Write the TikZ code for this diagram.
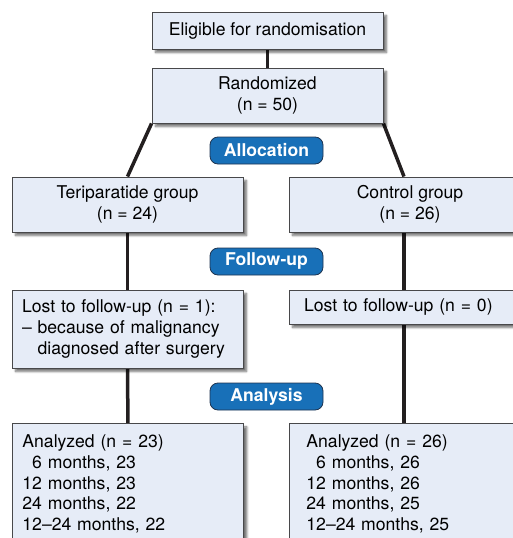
\documentclass[tikz,border=0pt]{standalone}
\usepackage{fontspec}
\setmainfont{TeX Gyre Heros}
\usetikzlibrary{positioning, calc, shadows.blur}
\definecolor{boxblue}{RGB}{230, 236, 247}
\definecolor{boxline}{RGB}{72, 72, 74}
\definecolor{pillblue}{RGB}{24, 112, 184}
\definecolor{pilledge}{RGB}{30, 52, 80}
\definecolor{linkblack}{RGB}{35, 31, 32}
\newcommand{\flowfont}{\fontsize{17.6}{20.7}\selectfont}
\pgfdeclarelayer{background}
\pgfsetlayers{background,main}

\begin{document}
\begin{tikzpicture}[x=1pt, y=-1pt,
  flowbox/.style={draw=boxline, fill=boxblue, line width=0.9pt, inner sep=0pt, font=\flowfont, align=center,
    blur shadow={shadow xshift=3.5pt, shadow yshift=-3.5pt, shadow blur steps=6, shadow opacity=55}},
  pill/.style={draw=pilledge, fill=pillblue, line width=0.8pt, rounded corners=8pt, minimum width=113pt,
    minimum height=27pt, inner sep=0pt, text=white, font=\flowfont\bfseries},
  link/.style={draw=linkblack, line width=3.5pt}]
  \useasboundingbox (0,0) rectangle (513,538);

  % enrolment
  \node[flowbox, minimum width=231pt, minimum height=37pt] (elig) at (267.5,30.5) {Eligible for randomisation};
  \node[flowbox, minimum width=231pt, minimum height=55pt] (rand) at (267.5,95.5) {Randomized\\(n = 50)};
  \node[pill] (alloc) at (266.5,150.5) {Allocation};

  % allocation
  \node[flowbox, minimum width=231pt, minimum height=55pt] (ter) at (127.5,204.5) {Teriparatide group\\(n = 24)};
  \node[flowbox, minimum width=242pt, minimum height=55pt] (ctrl) at (410,204.5) {Control group\\(n = 26)};
  \node[pill] (follow) at (266.5,261.5) {Follow-up};

  % follow-up
  \node[flowbox, align=left, text width=211pt, inner xsep=10pt, minimum height=78pt] (lostL) at (127.5,329)
    {Lost to follow-up (n = 1):\\– because of malignancy\\\phantom{– }diagnosed after surgery};
  \node[flowbox, align=left, text width=212pt, inner xsep=15pt, minimum height=34pt] (lostR) at (410,307)
    {Lost to follow-up (n = 0)};
  \node[pill] (analysis) at (266.5,396.5) {Analysis};

  % analysis
  \node[flowbox, anchor=north west, align=left, text width=211pt, inner xsep=10pt, minimum height=121pt] (anaL) at (12,423)
    {Analyzed (n = 23)\\\phantom{1}6 months, 23\\12 months, 23\\24 months, 22\\12–24 months, 22};
  \node[flowbox, anchor=north west, align=left, text width=208pt, inner xsep=17pt, minimum height=121pt] (anaR) at (289,423)
    {Analyzed (n = 26)\\\phantom{1}6 months, 26\\12 months, 26\\24 months, 25\\12–24 months, 25};

  \coordinate (colR) at (404,0);
  \begin{pgfonlayer}{background}
    \draw[link] (elig.south) -- (rand.north);
    \draw[link] (rand.south west) -- (ter.north);
    \draw[link] (rand.south east) -- (ctrl.north -| colR);
    \draw[link] (ter.south) -- (lostL.north);
    \draw[link] (lostL.south) -- (anaL.north);
    \draw[link] (ctrl.south -| colR) -- (lostR.north -| colR);
    \draw[link] (lostR.south -| colR) -- (anaR.north -| colR);
  \end{pgfonlayer}
\end{tikzpicture}
\end{document}
